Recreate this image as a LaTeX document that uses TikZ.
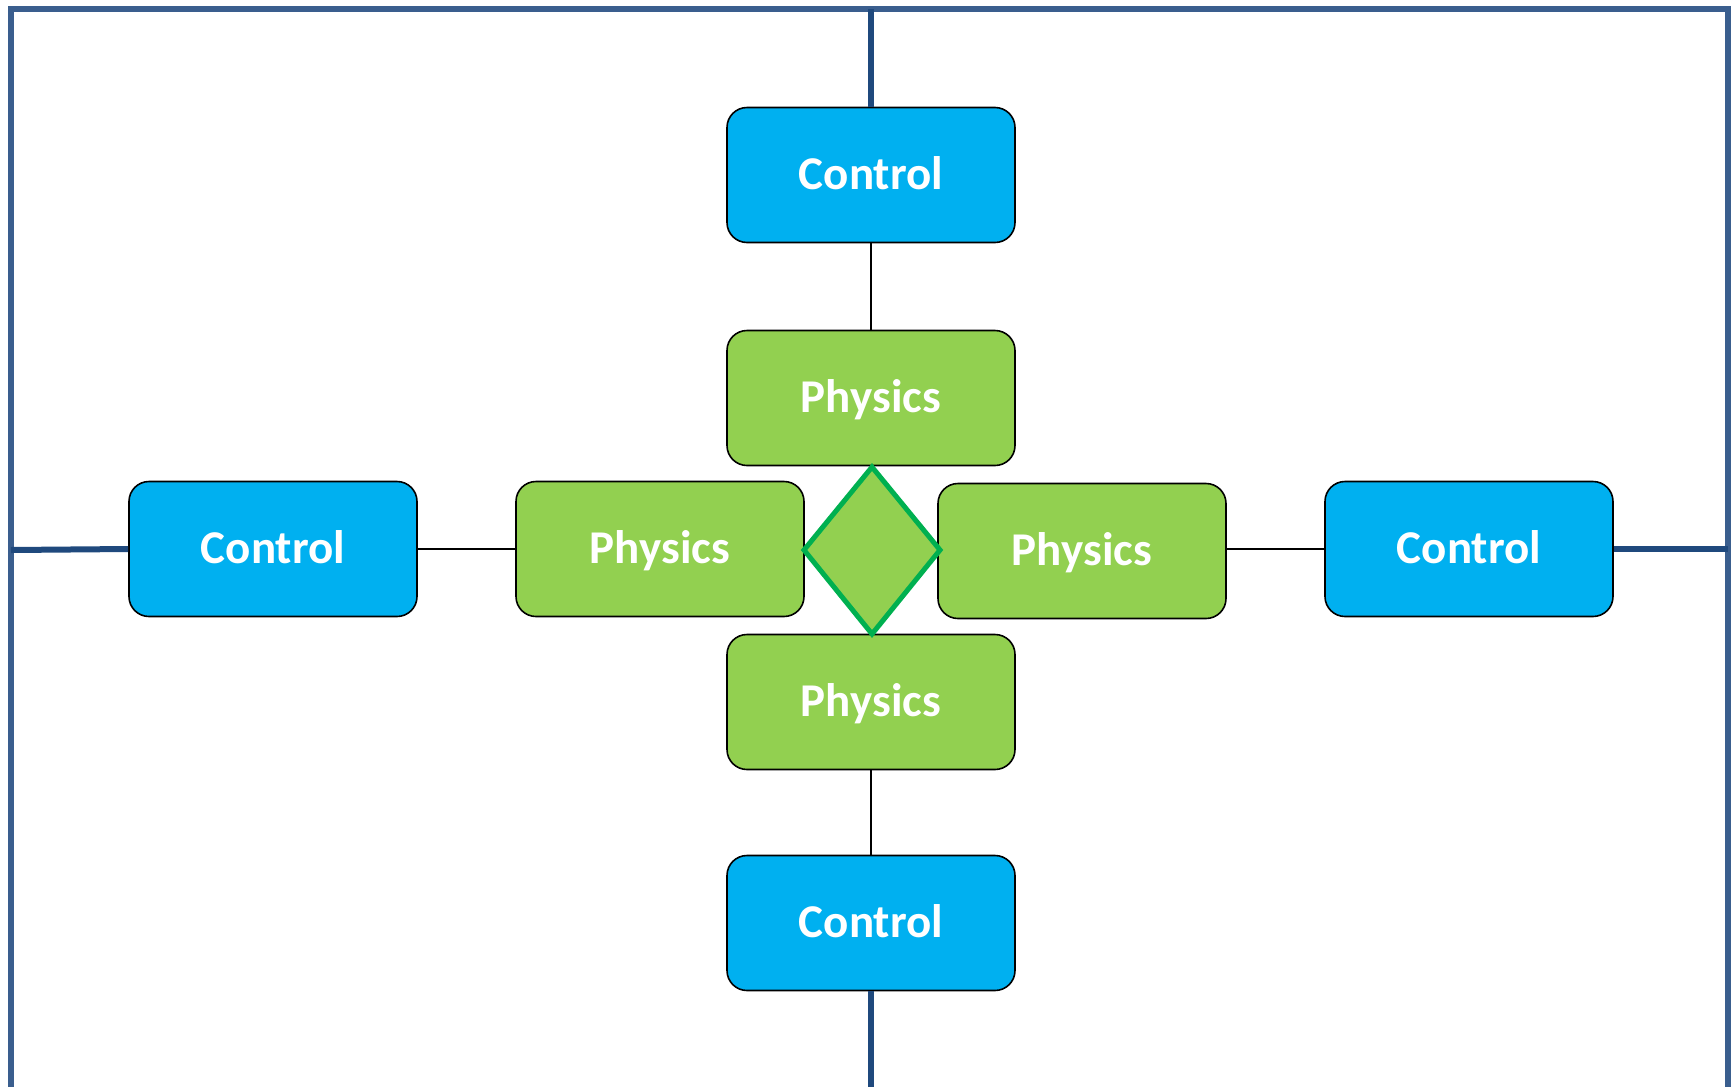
\documentclass[tikz,border=0pt]{standalone}
\usepackage{fontspec}
\setmainfont{Carlito}
\usetikzlibrary{shapes.geometric}
\definecolor{ctrlblue}{HTML}{00B0F0}
\definecolor{physgreen}{HTML}{92D050}
\definecolor{diagreen}{HTML}{00B050}
\definecolor{framec}{HTML}{3A5E8E}
\definecolor{busc}{HTML}{1F497D}
\begin{document}
\begin{tikzpicture}[x=0.5pt,y=-0.5pt,
  blockbox/.style={draw=black,line width=0.8pt,rounded corners=10pt,
    minimum width=144pt,minimum height=67.5pt,inner sep=0pt,
    text height=14pt,text depth=0pt,
    text=white,font=\fontsize{23.5}{28}\selectfont\bfseries},
  ctrl/.style={blockbox,fill=ctrlblue},
  phys/.style={blockbox,fill=physgreen},
  link/.style={draw=black,line width=1pt},
  bus/.style={draw=busc,line width=3pt},
  frameline/.style={draw=framec,line width=2.6pt}]
\useasboundingbox (0,0) rectangle (1735,1087);

% outer frame (open at the bottom)
\draw[frameline] (11,1087) -- (11,9) -- (1728,9) -- (1728,1087);

% blocks
\node[ctrl] (ctop) at (871,175) {Control};
\node[phys] (ptop) at (871,398) {Physics};
\node[ctrl] (cleft) at (273,549) {Control};
\node[phys] (pleft) at (660,549) {Physics};
\node[phys] (pright) at (1082,551) {Physics};
\node[ctrl] (cright) at (1469,549) {Control};
\node[phys] (pbot) at (871,702) {Physics};
\node[ctrl] (cbot) at (871,923) {Control};

% central junction diamond
\draw[diagreen,line width=2.5pt,fill=physgreen,line join=miter]
  (872,467) coordinate (dtop) -- (940,550) coordinate (dright)
  -- (872,634) coordinate (dbot) -- (804,550) coordinate (dleft) -- cycle;

% links between control and physics
\draw[link] (ctop.south) -- (ptop.north);
\draw[link] (cleft.east) -- (pleft.west);
\draw[link] (pright.east |- cright.west) -- (cright.west);
\draw[link] (pbot.south) -- (cbot.north);

% links to the frame
\coordinate (ftop) at (871,9);
\coordinate (fleft) at (11,550);
\coordinate (fright) at (1728,549);
\coordinate (fbot) at (871,1087);
\draw[bus] (ftop) -- (ctop.north);
\draw[bus] (fleft) -- (cleft.west);
\draw[bus] (cright.east) -- (fright);
\draw[bus] (cbot.south) -- (fbot);
\end{tikzpicture}
\end{document}
